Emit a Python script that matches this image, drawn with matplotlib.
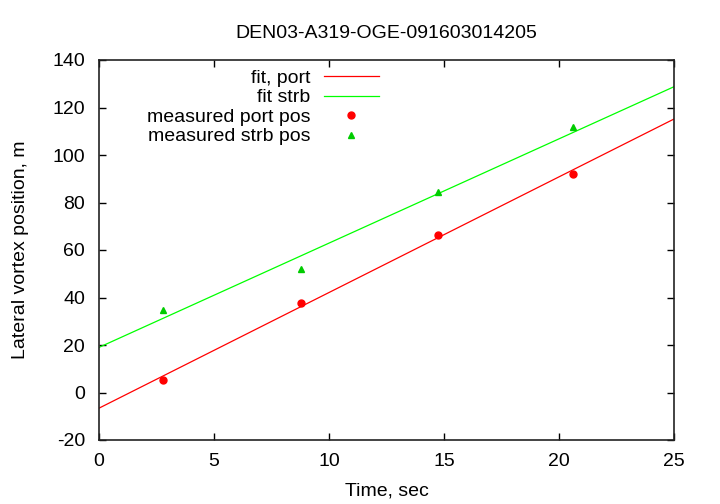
import numpy as np
import matplotlib
matplotlib.use("Agg")
import matplotlib.pyplot as plt

plt.rcParams['font.family'] = ['Liberation Sans', 'DejaVu Sans']
plt.rcParams['axes.unicode_minus'] = False

# measured positions
t_port = [2.78, 8.77, 14.72, 20.62]
y_port = [5.1, 37.7, 66.4, 92.1]
t_strb = [2.78, 8.77, 14.72, 20.62]
y_strb = [34.7, 52.0, 84.4, 111.6]

# fitted lines (intercept, slope)
fit_port = (-6.6, 4.87)
fit_strb = (19.0, 4.39)

t_fit = np.array([0, 25])

fig = plt.figure(figsize=(7.2, 5.04), dpi=100)
ax = fig.add_axes([99/720, 64/504, 575/720, 380/504])

ax.plot(t_fit, fit_port[0] + fit_port[1]*t_fit, color='#ff0000', lw=0.9, label='fit, port')
ax.plot(t_fit, fit_strb[0] + fit_strb[1]*t_fit, color='#00ff00', lw=0.9, label='fit strb')
ax.plot(t_port, y_port, 'o', color='#ff0000', ms=5, label='measured port pos')
ax.plot(t_strb, y_strb, '^', color='#00cc00', ms=4, label='measured strb pos')

ax.set_xlim(0, 25)
ax.set_ylim(-20, 140)
ax.set_xticks(range(0, 26, 5))
ax.set_yticks(range(-20, 141, 20))
ax.tick_params(direction='in', top=True, right=True, labelsize=14, length=5, width=1)
ax.tick_params(axis='y', pad=10)
ax.tick_params(axis='x', pad=9)
for s in ax.spines.values():
    s.set_linewidth(1.2)
    s.set_color('#222222')

ax.set_xlabel('Time, sec', fontsize=14, labelpad=9)
ax.set_ylabel('Lateral vortex position, m', fontsize=14, labelpad=17)
ax.set_title('DEN03-A319-OGE-091603014205', fontsize=14, pad=16)

ax.legend(loc='upper left', bbox_to_anchor=(0.053, 1.022), frameon=False, markerfirst=False,
          fontsize=14, handlelength=2.8, handletextpad=0.7, labelspacing=0.1, numpoints=1)
for txt in ax.get_legend().get_texts():
    txt.set_ha('right')
    txt.set_position((0, 0))

fig.savefig('out.png', dpi=100)
